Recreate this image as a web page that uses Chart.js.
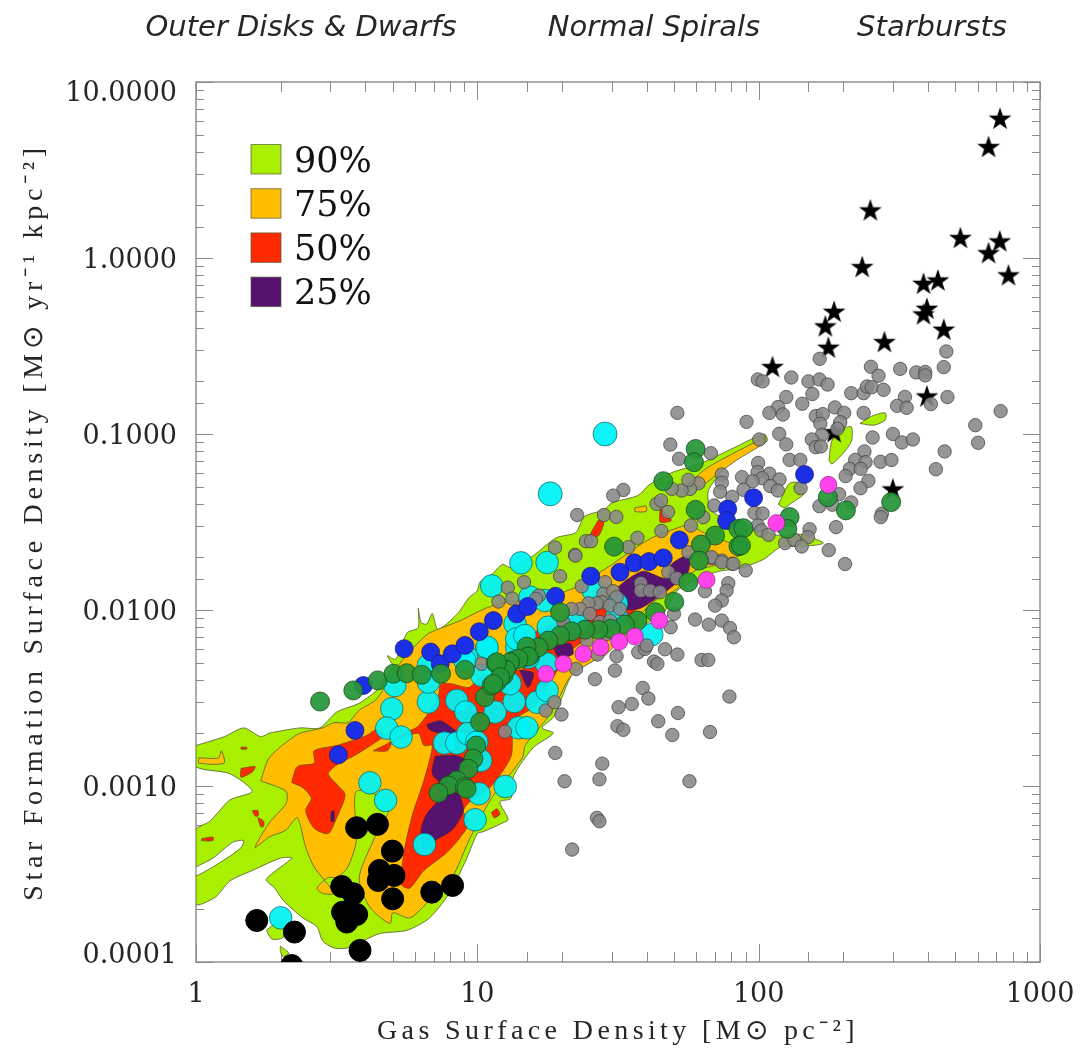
<!DOCTYPE html>
<html>
<head>
<meta charset="utf-8">
<style>html,body{margin:0;padding:0;background:#fff}canvas{display:block}</style>
<script src="https://cdn.jsdelivr.net/npm/chart.js@4"></script>
</head>
<body>
<canvas id="c" width="1082" height="1052"></canvas>
<script>
// All values are log10 of the axis quantity: [log gas density, log SFR density]
const regionLabels = ['Outer Disks & Dwarfs', 'Normal Spirals', 'Starbursts'];
const legendLabels = ['90%', '75%', '50%', '25%'];
const xTickLabels = ['1', '10', '100', '1000'];
const yTickLabels = ['0.0001', '0.0010', '0.0100', '0.1000', '1.0000', '10.0000'];
const xTitle = 'Gas Surface Density [M\u2299 pc\u207B\u00B2]';
const yTitle = 'Star Formation Surface Density [M\u2299 yr\u207B\u00B9 kpc\u207B\u00B2]';

const starbursts = [[2.858,.791],[2.817,.630],[2.397,.270],[2.717,.113],[2.857,.094],[2.817,.027],[2.888,-.099],[2.368,-.052],[2.637,-.128],[2.586,-.147],[2.598,-.289],[2.586,-.321],[2.658,-.408],[2.268,-.306],[2.237,-.389],[2.248,-.510],[2.447,-.478],[2.049,-.620],[2.598,-.787],[2.477,-1.315],[2.268,-.990]];

const greyDisks = [[2.667,-.531],[2.658,-.620],[2.217,-.573],[2.399,-.618],[2.426,-.669],[2.503,-.630],[2.560,-.650],[2.592,-.648],[2.592,-.667],[1.997,-.690],[2.014,-.701],[2.116,-.679],[2.177,-.701],[2.216,-.690],[2.245,-.719],[2.671,-.790],[2.520,-.789],[2.492,-.840],[2.526,-.851],[2.612,-.830],[2.329,-.768],[2.373,-.768],[2.385,-.730],[2.402,-.734],[2.444,-.749],[2.191,-.773],[2.155,-.828],[2.098,-.790],[2.069,-.847],[2.038,-.880],[2.086,-.889],[2.271,-.849],[2.304,-.880],[2.203,-.898],[2.228,-.887],[2.373,-.880],[1.957,-.931],[2.219,-.942],[2.290,-.933],[2.280,-.970],[2.860,-.870],[2.770,-.950],[2.780,-1.050],[2.073,-.999],[2.098,-1.059],[2.225,-1.005],[2.189,-1.031],[2.203,-1.075],[2.221,-1.071],[2.405,-1.020],[2.477,-1.0],[2.509,-1.048],[2.548,-1.031],[2.661,-1.099],[2.630,-1.200],[2.002,-1.031],[1.830,-1.109],[2.110,-1.147],[2.148,-1.147],[2.376,-1.099],[2.343,-1.147],[2.380,-1.160],[2.433,-1.158],[2.472,-1.148],[2.324,-1.198],[2.363,-1.198],[2.309,-1.239],[2.390,-1.266],[2.362,-1.308],[1.998,-1.165],[1.996,-1.217],[2.038,-1.226],[1.941,-1.245],[2.012,-1.251],[2.074,-1.258],[1.869,-1.230],[1.869,-1.277],[1.978,-1.268],[1.946,-1.317],[2.041,-1.296],[2.068,-1.321],[1.863,-1.328],[1.906,-1.357],[1.842,-1.406],[1.985,-1.448],[2.014,-1.452],[2.149,-1.308],[2.286,-1.342],[2.216,-1.410],[2.262,-1.402],[2.329,-1.389],[2.438,-1.453],[2.434,-1.472],[2.275,-1.529],[2.181,-1.541],[2.175,-1.586],[2.094,-1.620],[2.127,-1.601],[2.153,-1.639],[2.249,-1.660],[2.307,-1.739],[1.997,-1.520],[2.009,-1.548],[2.035,-1.573],[1.869,-1.719],[1.833,-1.705],[1.905,-1.737],[1.954,-1.775],
[1.711,-.880],[1.686,-1.060],[1.717,-1.141],[1.519,-1.318],[1.483,-1.350],[1.355,-1.460],[1.450,-1.460],[1.494,-1.471],[1.637,-1.397],[1.653,-1.378],[1.678,-1.443],[1.386,-1.609],[1.404,-1.609],[1.569,-1.590],[1.654,-1.551],[1.759,-1.520],[1.276,-1.645],[1.347,-1.687],[1.349,-1.691],[1.294,-1.808],[1.166,-1.842],[1.108,-1.873],[1.075,-1.952],[1.124,-1.935],[1.219,-1.918],[1.208,-1.937],[1.371,-1.865],[1.454,-1.842],[1.448,-1.909],[1.483,-1.893],[1.444,-1.956],[1.424,-1.962],[1.495,-1.927],[1.472,-1.975],[1.395,-1.962],[1.365,-1.994],[1.335,-1.994],[1.400,-2.022],[1.436,-2.069],[1.472,-2.060],[1.507,-1.994],[1.537,-1.643],[1.786,-1.280],[1.756,-1.312],[1.726,-1.321],[1.691,-1.312],[1.750,-1.261],[1.803,-1.473],[1.581,-1.848],[1.581,-1.890],[1.614,-1.890],[1.649,-1.899],[1.679,-1.785],[1.709,-1.820],[1.750,-1.672],[1.833,-1.700],[1.869,-1.729],[1.910,-1.738],[1.892,-1.848],[1.886,-1.890],[1.869,-1.946],[1.845,-1.975],[1.809,-1.893],[1.699,-2.022],[1.687,-2.098],[1.774,-2.054],[1.823,-2.083],[1.869,-2.060],[1.898,-2.102],[1.912,-2.155],[1.667,-2.223],[1.711,-2.253],[1.628,-2.293],[1.640,-2.306],[1.797,-2.284],[1.821,-2.284],[1.572,-2.240],[1.596,-2.221],[1.602,-2.202],[1.495,-2.263],[1.489,-2.344],[1.418,-2.393],[1.588,-2.443],[1.608,-2.503],[1.896,-2.492],[1.549,-2.534],[1.502,-2.552],[1.713,-2.585],[1.643,-2.632],[1.498,-2.660],[1.519,-2.681],[1.693,-2.710],[1.827,-2.693],[1.015,-2.306],[1.299,-2.594],[1.243,-2.571],[1.274,-2.524],[1.098,-2.691],[1.351,-2.335],[1.427,-2.253],[1.335,-2.136],[1.389,-2.174],[1.306,-2.070],[1.460,-2.136],
[1.277,-2.812],[1.444,-2.873],[1.434,-2.962],[1.310,-2.973],[1.754,-2.973],[1.425,-3.181],[1.434,-3.200],[1.337,-3.361]];

const cyanGalaxies = [[.618,-2.982],[.674,-3.082],[.812,-3.332],[.992,-3.192],[1.099,-3.003],[1.006,-3.044],[.696,-2.561],[.678,-2.671],[.729,-2.722],[.826,-2.523],[.927,-2.514],[.959,-2.580],[.883,-2.756],[.927,-2.756],[.966,-2.703],[1.012,-2.855],[1.063,-2.580],[1.131,-2.520],[1.146,-2.669],[1.176,-2.669],[.998,-2.751],[1.033,-2.220],[.826,-2.315],[.962,-2.268],[1.016,-2.372],[.707,-2.429],[.826,-2.410],[1.116,-2.419],[1.140,-2.211],[.301,-3.749],[1.155,-1.732],[1.248,-1.730],[1.051,-1.863],[1.412,-1.890],[1.187,-1.927],[1.134,-2.079],[1.035,-2.212],[1.240,-1.946],[1.495,-1.965],[1.353,-2.070],[1.252,-2.098],[1.140,-2.164],[1.169,-2.145],[1.212,-2.524],[1.248,-2.458],[1.620,-2.140],[1.246,-2.306],[1.181,-2.268],[.956,-2.287],[1.495,-2.041]];
const cyanOutliers = [[1.454,-1.0],[1.259,-1.340]];

const blueGalaxies = [[.506,-2.823],[.565,-2.684],[.595,-2.429],[.740,-2.220],[.834,-2.239],[.868,-2.306],[.911,-2.249],[.956,-2.201],[1.007,-2.123],[1.057,-2.060],[1.140,-2.022],[1.179,-1.980],[1.278,-1.922],[1.403,-1.808],[1.507,-1.785],[1.558,-1.732],[1.610,-1.725],[1.661,-1.704],[1.718,-1.602],[1.890,-1.426],[1.886,-1.492],[1.982,-1.362],[2.163,-1.230]];

const greenGalaxies = [[.441,-2.520],[.559,-2.457],[.646,-2.400],[.702,-2.362],[.749,-2.359],[.802,-2.368],[.871,-2.362],[.956,-2.340],[1.066,-2.302],[1.099,-2.340],[1.128,-2.287],[1.164,-2.268],[1.187,-2.258],[1.027,-2.495],[1.051,-2.429],[1.069,-2.410],[1.093,-2.372],[1.010,-2.637],[.996,-2.770],[.986,-2.845],[.968,-2.902],[.927,-2.968],[.897,-2.997],[.862,-3.039],[.956,-3.006],[.962,-3.016],[1.776,-1.085],[1.770,-1.160],[1.661,-1.268],[1.776,-1.431],[1.845,-1.577],[1.795,-1.628],[1.788,-1.719],[1.928,-1.539],[1.928,-1.638],[1.486,-1.640],[1.750,-1.842],[1.700,-1.954],[1.632,-2.013],[1.294,-2.013],[1.569,-2.060],[1.525,-2.083],[1.474,-2.107],[1.430,-2.113],[1.383,-2.111],[1.335,-2.121],[1.294,-2.145],[1.252,-2.174],[1.217,-2.212],[1.175,-2.208],[1.181,-2.265],[1.146,-2.278],[1.116,-2.297],[1.101,-2.340],[1.069,-2.297],[1.081,-2.382],[1.057,-2.420],[2.246,-1.359],[2.310,-1.434],[2.471,-1.387],[2.110,-1.472],[2.102,-1.539],[1.946,-1.535],[1.937,-1.633]];

const magentaGalaxies = [[1.815,-1.829],[1.647,-2.060],[1.560,-2.151],[1.504,-2.181],[1.438,-2.212],[1.377,-2.249],[1.306,-2.306],[1.244,-2.363],[2.248,-1.289],[2.063,-1.506]];

const blackGalaxies = [[.216,-3.764],[.350,-3.830],[.340,-4.020],[.583,-3.934],[.571,-3.237],[.645,-3.218],[.698,-3.370],[.652,-3.480],[.704,-3.508],[.648,-3.537],[.699,-3.641],[.518,-3.571],[.559,-3.612],[.521,-3.717],[.571,-3.730],[.536,-3.773],[.838,-3.603],[.912,-3.565]];

// Contour outlines of the pixel-by-pixel distribution
const contour90 = [[0,-2.77],[.10,-2.72],[.17,-2.67],[.23,-2.72],[.26,-2.70],[.37,-2.67],[.44,-2.67],[.50,-2.58],[.58,-2.53],[.64,-2.46],[.67,-2.40],[.70,-2.32],[.68,-2.26],[.71,-2.28],[.75,-2.13],[.79,-2.10],[.79,-1.99],[.80,-2.07],[.82,-2.08],[.84,-2.02],[.86,-2.11],[.93,-2.02],[.97,-1.93],[1.00,-1.89],[1.01,-1.84],[1.05,-1.80],[1.09,-1.74],[1.12,-1.76],[1.20,-1.69],[1.28,-1.59],[1.35,-1.56],[1.38,-1.47],[1.45,-1.43],[1.48,-1.39],[1.57,-1.35],[1.61,-1.29],[1.69,-1.22],[1.79,-1.17],[1.91,-1.08],[2.02,-1.0],[2.03,-1.04],[1.91,-1.15],[1.85,-1.25],[1.82,-1.33],[1.83,-1.43],[1.90,-1.50],[1.97,-1.53],[2.08,-1.58],[2.15,-1.57],[2.23,-1.62],[2.15,-1.64],[2.08,-1.64],[2.02,-1.71],[1.94,-1.76],[1.86,-1.78],[1.79,-1.82],[1.71,-1.89],[1.66,-2.02],[1.55,-2.12],[1.48,-2.21],[1.41,-2.29],[1.34,-2.36],[1.30,-2.50],[1.27,-2.61],[1.23,-2.67],[1.27,-2.70],[1.20,-2.78],[1.13,-2.94],[1.12,-3.07],[1.08,-3.09],[1.11,-3.19],[1.09,-3.21],[1.02,-3.26],[1.00,-3.27],[.96,-3.42],[.90,-3.61],[.83,-3.75],[.75,-3.82],[.65,-3.84],[.54,-3.92],[.49,-3.92],[.45,-3.88],[.43,-3.80],[.38,-3.75],[.31,-3.65],[.28,-3.58],[.25,-3.53],[.34,-3.41],[.30,-3.41],[.20,-3.48],[.12,-3.54],[.07,-3.63],[0,-3.67],[0,-3.25],[.05,-3.20],[.12,-3.08],[.20,-3.03],[.12,-2.93],[0,-2.89],[0,-2.77]];
const contour90Hole = [[0,-3.46],[.06,-3.41],[.13,-3.32],[.17,-3.31],[.16,-3.35],[.10,-3.42],[0,-3.51],[0,-3.46]];
const contour90Patches = [
 [[.25,-3.82],[.30,-3.76],[.31,-3.86],[.27,-3.87],[.25,-3.82]],
 [[.30,-3.91],[.33,-3.95],[.31,-3.97],[.30,-3.94],[.30,-3.91]],
 [[2.36,-.94],[2.40,-.90],[2.45,-.88],[2.45,-.92],[2.41,-.95],[2.36,-.94]],
 [[2.25,-1.15],[2.26,-1.04],[2.30,-.97],[2.33,-.96],[2.33,-1.04],[2.30,-1.11],[2.26,-1.17],[2.25,-1.15]],
 [[2.07,-1.40],[2.11,-1.28],[2.15,-1.28],[2.16,-1.34],[2.11,-1.40],[2.09,-1.42],[2.07,-1.40]]
];
const contour75 = [[.23,-2.97],[.26,-2.84],[.33,-2.74],[.37,-2.70],[.45,-2.67],[.49,-2.64],[.54,-2.64],[.58,-2.57],[.64,-2.51],[.67,-2.44],[.74,-2.27],[.80,-2.17],[.83,-2.13],[.94,-2.06],[1.03,-1.99],[1.12,-1.95],[1.22,-1.95],[1.32,-1.89],[1.35,-1.87],[1.48,-1.74],[1.55,-1.66],[1.62,-1.59],[1.70,-1.54],[1.75,-1.52],[1.83,-1.58],[1.90,-1.62],[1.95,-1.67],[1.86,-1.74],[1.77,-1.78],[1.71,-1.88],[1.62,-1.96],[1.46,-2.25],[1.40,-2.30],[1.33,-2.38],[1.29,-2.50],[1.25,-2.61],[1.17,-2.77],[1.16,-2.84],[1.05,-3.07],[.97,-3.31],[.91,-3.52],[.83,-3.65],[.76,-3.75],[.70,-3.72],[.69,-3.78],[.65,-3.74],[.61,-3.67],[.58,-3.52],[.63,-3.31],[.69,-3.10],[.57,-3.03],[.57,-3.31],[.54,-3.46],[.50,-3.52],[.47,-3.52],[.43,-3.58],[.45,-3.61],[.49,-3.61],[.42,-3.46],[.39,-3.35],[.36,-3.18],[.32,-3.25],[.26,-3.29],[.21,-3.35],[.26,-3.21],[.32,-3.10],[.32,-3.03],[.23,-2.97]];
const contour75Patches = [
 [[.01,-2.84],[.08,-2.84],[.09,-2.80],[.10,-2.87],[.01,-2.87],[.01,-2.84]],
 [[2.02,-1.02],[2.02,-1.05],[1.92,-1.15],[1.86,-1.22],[1.79,-1.30],[1.76,-1.28],[1.81,-1.20],[1.91,-1.11],[2.02,-1.02]],
 [[1.56,-1.42],[1.60,-1.41],[1.60,-1.44],[1.56,-1.44],[1.56,-1.42]]
];
const contour50 = [[.63,-2.80],[.68,-2.76],[.74,-2.70],[.79,-2.66],[.86,-2.50],[.87,-2.42],[.91,-2.42],[.97,-2.44],[1.01,-2.38],[1.07,-2.36],[1.13,-2.34],[1.16,-2.34],[1.21,-2.12],[1.29,-2.07],[1.43,-1.99],[1.58,-1.93],[1.67,-1.84],[1.59,-1.96],[1.53,-2.04],[1.34,-2.22],[1.27,-2.38],[1.20,-2.55],[1.13,-2.63],[1.12,-2.83],[1.05,-3.00],[.98,-3.08],[.95,-3.14],[.97,-3.21],[.94,-3.29],[.89,-3.38],[.81,-3.48],[.76,-3.58],[.73,-3.56],[.74,-3.37],[.77,-3.16],[.81,-2.97],[.84,-2.77],[.81,-2.77],[.79,-2.70],[.70,-2.75],[.68,-2.80],[.63,-2.80]];
const contour50Left = [[.34,-2.98],[.36,-2.89],[.42,-2.87],[.42,-2.80],[.50,-2.77],[.56,-2.74],[.61,-2.71],[.64,-2.68],[.67,-2.71],[.63,-2.76],[.56,-2.83],[.50,-2.88],[.47,-2.93],[.50,-2.99],[.53,-3.05],[.50,-3.18],[.47,-3.27],[.42,-3.24],[.39,-3.14],[.41,-3.07],[.38,-3.01],[.34,-2.98]];
const contour50Patches = [
 [[.16,-2.90],[.21,-2.89],[.20,-2.92],[.16,-2.95],[.16,-2.90]],
 [[.16,-2.78],[.18,-2.78],[.18,-2.79],[.16,-2.79],[.16,-2.78]],
 [[.20,-3.14],[.22,-3.14],[.22,-3.17],[.21,-3.17],[.20,-3.14]],
 [[.22,-3.18],[.24,-3.20],[.24,-3.23],[.23,-3.23],[.22,-3.18]],
 [[.02,-3.30],[.06,-3.29],[.06,-3.31],[.02,-3.31],[.02,-3.30]],
 [[1.05,-3.15],[1.07,-3.13],[1.08,-3.16],[1.06,-3.18],[1.05,-3.15]],
 [[1.43,-1.49],[1.45,-1.50],[1.43,-1.58],[1.40,-1.58],[1.43,-1.49]],
 [[1.65,-1.42],[1.69,-1.49],[1.65,-1.50],[1.65,-1.42]]
];
const contour25Patches = [
 [[.82,-2.65],[.87,-2.63],[.91,-2.67],[.93,-2.70],[.87,-2.70],[.83,-2.68],[.82,-2.65]],
 [[.85,-2.83],[.93,-2.83],[.97,-2.87],[.93,-2.95],[.88,-2.99],[.84,-2.93],[.85,-2.83]],
 [[.87,-3.07],[.93,-3.04],[.95,-3.14],[.91,-3.25],[.85,-3.31],[.81,-3.38],[.80,-3.25],[.82,-3.16],[.87,-3.07]],
 [[1.15,-2.34],[1.20,-2.36],[1.18,-2.44],[1.15,-2.34]],
 [[1.27,-2.21],[1.33,-2.19],[1.34,-2.25],[1.29,-2.27],[1.27,-2.21]],
 [[1.50,-1.87],[1.53,-1.83],[1.59,-1.78],[1.67,-1.82],[1.69,-1.74],[1.75,-1.69],[1.75,-1.78],[1.69,-1.87],[1.58,-1.99],[1.52,-1.99],[1.50,-1.87]],
 [[.48,-3.15],[.49,-3.14],[.49,-3.20],[.48,-3.20],[.48,-3.15]]
];

const LIME='#a9f000', ORANGE='#ffbe00', RED='#ff2a00', PURPLE='#55126e';
const legendColors=[LIME,ORANGE,RED,PURPLE];
const TEXT='#262626', FRAME='#8a8a8a', EDGE='rgba(90,100,50,0.85)';

const pts = a => a.map(([x,y]) => ({x:10**x, y:10**y}));
const poly = (a,c,edge=EDGE) => ({type:'scatter',data:pts(a),showLine:true,fill:'shape',backgroundColor:c,borderColor:edge,borderWidth:1,pointRadius:0,tension:0.25,clip:0});
const dots = (a,c,r,edge='rgba(30,30,30,0.65)') => ({type:'scatter',data:pts(a),backgroundColor:c,borderColor:edge,borderWidth:1,pointRadius:r,clip:0});

function makeStar(){
  const s=document.createElement('canvas');s.width=s.height=26;
  const g=s.getContext('2d');g.beginPath();
  for(let i=0;i<10;i++){const r=i%2?4.7:12,a=-Math.PI/2+i*Math.PI/5;g.lineTo(13+r*Math.cos(a),13.5+r*Math.sin(a));}
  g.closePath();g.fillStyle='#000';g.fill();return s;
}

const layers = [
  poly(contour90,LIME),
  poly(contour90Hole,'#ffffff'),
  ...contour90Patches.map(p=>poly(p,LIME)),
  poly(contour75,ORANGE),
  ...contour75Patches.map(p=>poly(p,ORANGE)),
  poly(contour50,RED,'rgba(120,70,20,0.8)'),
  poly(contour50Left,RED,'rgba(120,70,20,0.8)'),
  ...contour50Patches.map(p=>poly(p,RED,'rgba(120,70,20,0.8)')),
  ...contour25Patches.map(p=>poly(p,PURPLE,'rgba(80,30,60,0.8)')),
  dots(cyanGalaxies,'rgba(0,242,245,0.93)',11.3,'rgba(20,90,90,0.7)'),
  dots(cyanOutliers,'rgba(0,242,245,0.95)',12,'rgba(20,90,90,0.7)'),
  {type:'scatter',data:pts(starbursts),pointStyle:makeStar(),pointRadius:13,clip:0},
  dots(greyDisks,'rgba(135,135,135,0.88)',6.7,'rgba(60,60,60,0.7)'),
  dots(blueGalaxies,'#1a2fe6',9,'rgba(20,20,120,0.7)'),
  dots(greenGalaxies,'rgba(38,150,55,0.93)',9.5,'rgba(20,70,30,0.75)'),
  dots(magentaGalaxies,'#ff42ea',8.5,'rgba(110,40,110,0.6)'),
  dots(blackGalaxies,'#000',11,'#000')
];
layers.forEach((d,i)=>{d.order=layers.length-i;});

const frameTicks = {
  id:'frameTicks',
  beforeDatasetsDraw(chart){
    const {ctx,chartArea:a,scales:{x,y}}=chart;
    ctx.save();ctx.strokeStyle=FRAME;ctx.lineWidth=1;ctx.beginPath();
    const isMajor=v=>Math.abs(Math.log10(v)-Math.round(Math.log10(v)))<1e-6;
    x.ticks.forEach(t=>{const p=Math.round(x.getPixelForValue(t.value))+.5,l=isMajor(t.value)?18:10;
      ctx.moveTo(p,a.bottom);ctx.lineTo(p,a.bottom-l);ctx.moveTo(p,a.top);ctx.lineTo(p,a.top+l);});
    y.ticks.forEach(t=>{const p=Math.round(y.getPixelForValue(t.value))+.5,l=isMajor(t.value)?17:8;
      ctx.moveTo(a.left,p);ctx.lineTo(a.left+l,p);ctx.moveTo(a.right,p);ctx.lineTo(a.right-l,p);});
    ctx.stroke();
    ctx.lineWidth=1.4;ctx.strokeRect(a.left,a.top,a.right-a.left,a.bottom-a.top);
    ctx.restore();
  }
};
const annotations = {
  id:'annotations',
  beforeDraw(chart){
    const y=chart.scales.y;
    y.getLabelItems(chart.chartArea).forEach(it=>{
      if(!it.label) return;
      it.options.translation[1]+=3;
      if(it.label==='10.0000') it.options.translation[1]+=9;
      if(it.label==='0.0001') it.options.translation[1]-=9;
    });
    [[chart.scales.x,'4.4px'],[y,'4.7px']].forEach(([s,gap])=>{
      if(s._spaced) return; s._spaced=true;
      const orig=s.drawTitle;
      s.drawTitle=function(){chart.ctx.letterSpacing=gap;orig.call(this);chart.ctx.letterSpacing='0px';};
    });
  },
  afterDatasetsDraw(chart){
    const ctx=chart.ctx;ctx.save();
    ctx.textBaseline='alphabetic';ctx.textAlign='center';ctx.fillStyle=TEXT;
    ctx.font='italic 29px "DejaVu Sans"';
    [301,654,932].forEach((cx,i)=>ctx.fillText(regionLabels[i],cx,36));
    ctx.textAlign='left';ctx.font='35px "DejaVu Serif"';
    legendLabels.forEach((t,i)=>{
      const top=144.5+i*44.2;
      ctx.fillStyle=legendColors[i];ctx.fillRect(251,top,30,29.5);
      ctx.strokeStyle='rgba(90,90,60,0.7)';ctx.lineWidth=1;ctx.strokeRect(251,top,30,29.5);
      ctx.fillStyle='#111';ctx.fillText(t,294,top+27);
    });
    ctx.restore();
  }
};
const noEdgePadding = s => { s.paddingLeft=0; s.paddingRight=0; s.paddingTop=0; s.paddingBottom=0; };

new Chart(document.getElementById('c'),{
  data:{datasets:layers},
  plugins:[frameTicks,annotations],
  options:{
    responsive:false,animation:false,events:[],
    layout:{padding:{top:82,right:42,left:0,bottom:0}},
    plugins:{legend:{display:false},tooltip:{enabled:false}},
    scales:{
      x:{type:'logarithmic',position:'bottom',min:1,max:1000,
        grid:{display:false},border:{display:false},
        afterFit(s){s.height=90;noEdgePadding(s);},
        ticks:{autoSkip:false,maxRotation:0,padding:9,color:TEXT,font:{family:'"DejaVu Serif"',size:27},
          callback(v){const l=String(Math.round(v));return xTickLabels.includes(l)&&Math.abs(v-Math.round(v))<1e-6?l:'';}},
        title:{display:true,text:xTitle,color:TEXT,font:{family:'"Liberation Serif"',size:28},padding:{top:0,bottom:4}}},
      y:{type:'logarithmic',position:'left',min:0.0001,max:10,
        grid:{display:false},border:{display:false},
        afterFit(s){s.width=196;noEdgePadding(s);},
        ticks:{autoSkip:false,padding:11,color:TEXT,font:{family:'"DejaVu Serif"',size:27},
          callback(v){const l=Number(v).toFixed(4);return yTickLabels.includes(l)&&Math.abs(Math.log10(v)-Math.round(Math.log10(v)))<1e-6?l:'';}},
        title:{display:true,text:yTitle,color:TEXT,font:{family:'"Liberation Serif"',size:28},padding:{top:18,bottom:0}}}
    }
  }
});
</script>
</body>
</html>
